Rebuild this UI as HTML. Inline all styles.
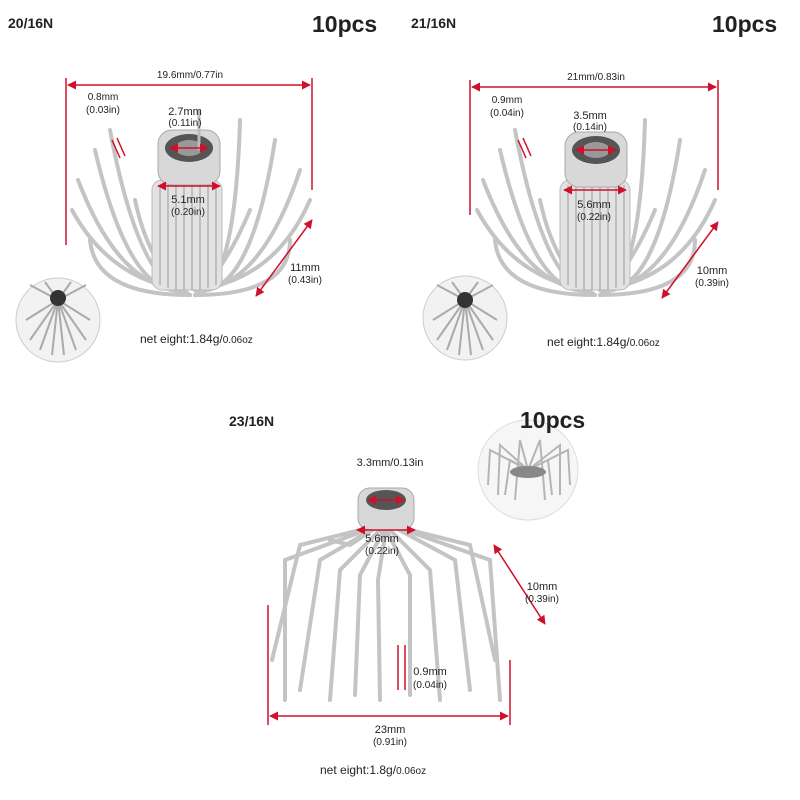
<!DOCTYPE html>
<html><head><meta charset="utf-8"><style>
html,body{margin:0;padding:0;background:#fff;}
svg{display:block;}
text{font-family:"Liberation Sans",sans-serif;fill:#222;}
.b{font-weight:bold;}
.s{font-size:11px;}
.xs{font-size:10px;}
.r{stroke:#d0102a;stroke-width:1.5;fill:none;}
.g{stroke:#c4c4c4;stroke-width:4;fill:none;stroke-linecap:round;}
.g2{stroke:#9a9a9a;stroke-width:1;fill:none;}
</style></head><body>
<svg width="800" height="800" viewBox="0 0 800 800" xmlns="http://www.w3.org/2000/svg">
<defs>
<marker id="a" viewBox="0 0 10 10" refX="9" refY="5" markerWidth="6" markerHeight="6" orient="auto-start-reverse"><path d="M0 0L10 5L0 10z" fill="#d0102a"/></marker>
</defs>
<rect width="800" height="800" fill="#fff"/>

<!-- ===== TOP LEFT ===== -->
<g>
<g class="g">
<path d="M185 290 Q120 290 78 180"/><path d="M185 290 Q130 300 95 150"/><path d="M185 290 Q110 280 72 210"/>
<path d="M190 295 Q140 290 110 130"/><path d="M190 295 Q150 270 135 200"/><path d="M190 295 Q95 295 90 240"/>
<path d="M195 290 Q260 290 300 170"/><path d="M195 290 Q250 300 275 140"/><path d="M195 290 Q275 280 310 200"/>
<path d="M195 295 Q235 290 240 120"/><path d="M195 295 Q225 270 250 210"/><path d="M195 295 Q290 295 290 240"/>
</g>
<rect x="152" y="180" width="70" height="110" rx="10" fill="#e2e2e2" stroke="#bbb"/>
<g class="g2"><path d="M160 185V285M168 185V288M176 185V290M184 185V290M192 185V290M200 185V290M208 185V288M216 185V285"/></g>
<rect x="158" y="130" width="62" height="55" rx="14" fill="#d8d8d8" stroke="#aaa"/>
<ellipse cx="189" cy="148" rx="24" ry="14" fill="#555"/>
<ellipse cx="189" cy="148" rx="14" ry="8" fill="#999"/>
<line x1="199" y1="110" x2="199" y2="150" stroke="#bbb" stroke-width="3"/>
<line class="r" x1="68" y1="85" x2="310" y2="85" marker-start="url(#a)" marker-end="url(#a)"/>
<line class="r" x1="66" y1="78" x2="66" y2="245"/><line class="r" x1="312" y1="78" x2="312" y2="190"/>
<text class="xs" x="190" y="78" text-anchor="middle">19.6mm/0.77in</text>
<line class="r" x1="112" y1="140" x2="120" y2="158"/><line class="r" x1="117" y1="138" x2="125" y2="156"/>
<text class="xs" x="103" y="100" text-anchor="middle">0.8mm</text><text class="xs" x="103" y="113" text-anchor="middle">(0.03in)</text>
<line class="r" x1="170" y1="148" x2="208" y2="148" marker-start="url(#a)" marker-end="url(#a)"/>
<text class="s" x="185" y="115" text-anchor="middle">2.7mm</text><text class="xs" x="185" y="126" text-anchor="middle">(0.11in)</text>
<line class="r" x1="158" y1="186" x2="220" y2="186" marker-start="url(#a)" marker-end="url(#a)"/>
<text class="s" x="188" y="203" text-anchor="middle">5.1mm</text><text class="xs" x="188" y="215" text-anchor="middle">(0.20in)</text>
<line class="r" x1="312" y1="220" x2="256" y2="296" marker-start="url(#a)" marker-end="url(#a)"/>
<text class="s" x="305" y="271" text-anchor="middle">11mm</text><text class="xs" x="305" y="283" text-anchor="middle">(0.43in)</text>
<circle cx="58" cy="320" r="42" fill="#f2f2f2" stroke="#ccc"/>
<g stroke="#aaa" stroke-width="2"><path d="M58 300L30 340M58 300L40 350M58 300L52 355M58 300L64 355M58 300L76 350M58 300L86 340M58 300L90 320M58 300L26 320M58 300L30 285M58 300L86 285M58 300L45 282M58 300L71 282"/></g>
<circle cx="58" cy="298" r="8" fill="#333"/>
<text x="140" y="343" style="font-size:12px">net eight:1.84g/<tspan class="xs">0.06oz</tspan></text>
<text class="b" x="8" y="28" style="font-size:14px">20/16N</text>
<text class="b" x="312" y="32" style="font-size:23px">10pcs</text>
</g>

<!-- ===== TOP RIGHT ===== -->
<g>
<g class="g">
<path d="M590 290 Q525 290 483 180"/><path d="M590 290 Q535 300 500 150"/><path d="M590 290 Q515 280 477 210"/>
<path d="M595 295 Q545 290 515 130"/><path d="M595 295 Q555 270 540 200"/><path d="M595 295 Q500 295 495 240"/>
<path d="M600 290 Q665 290 705 170"/><path d="M600 290 Q655 300 680 140"/><path d="M600 290 Q680 280 715 200"/>
<path d="M600 295 Q640 290 645 120"/><path d="M600 295 Q630 270 655 210"/><path d="M600 295 Q695 295 695 240"/>
</g>
<rect x="560" y="180" width="70" height="110" rx="10" fill="#e2e2e2" stroke="#bbb"/>
<g class="g2"><path d="M568 185V285M576 185V288M584 185V290M592 185V290M600 185V290M608 185V290M616 185V288M624 185V285"/></g>
<rect x="565" y="132" width="62" height="55" rx="14" fill="#d8d8d8" stroke="#aaa"/>
<ellipse cx="596" cy="150" rx="24" ry="14" fill="#555"/>
<ellipse cx="596" cy="150" rx="14" ry="8" fill="#999"/>
<line class="r" x1="472" y1="87" x2="716" y2="87" marker-start="url(#a)" marker-end="url(#a)"/>
<line class="r" x1="470" y1="80" x2="470" y2="215"/><line class="r" x1="718" y1="80" x2="718" y2="190"/>
<text class="xs" x="596" y="80" text-anchor="middle">21mm/0.83in</text>
<line class="r" x1="518" y1="140" x2="526" y2="158"/><line class="r" x1="523" y1="138" x2="531" y2="156"/>
<text class="xs" x="507" y="103" text-anchor="middle">0.9mm</text><text class="xs" x="507" y="116" text-anchor="middle">(0.04in)</text>
<line class="r" x1="576" y1="150" x2="616" y2="150" marker-start="url(#a)" marker-end="url(#a)"/>
<text class="s" x="590" y="119" text-anchor="middle">3.5mm</text><text class="xs" x="590" y="130" text-anchor="middle">(0.14in)</text>
<line class="r" x1="564" y1="190" x2="626" y2="190" marker-start="url(#a)" marker-end="url(#a)"/>
<text class="s" x="594" y="208" text-anchor="middle">5.6mm</text><text class="xs" x="594" y="220" text-anchor="middle">(0.22in)</text>
<line class="r" x1="718" y1="222" x2="662" y2="298" marker-start="url(#a)" marker-end="url(#a)"/>
<text class="s" x="712" y="274" text-anchor="middle">10mm</text><text class="xs" x="712" y="286" text-anchor="middle">(0.39in)</text>
<circle cx="465" cy="318" r="42" fill="#f2f2f2" stroke="#ccc"/>
<g stroke="#aaa" stroke-width="2"><path d="M465 300L437 340M465 300L447 350M465 300L459 355M465 300L471 355M465 300L483 350M465 300L493 340M465 300L497 320M465 300L433 320M465 300L437 285M465 300L493 285M465 300L452 282M465 300L478 282"/></g>
<circle cx="465" cy="300" r="8" fill="#333"/>
<text x="547" y="346" style="font-size:12px">net eight:1.84g/<tspan class="xs">0.06oz</tspan></text>
<text class="b" x="411" y="28" style="font-size:14px">21/16N</text>
<text class="b" x="712" y="32" style="font-size:23px">10pcs</text>
</g>

<!-- ===== BOTTOM ===== -->
<g>
<g class="g">
<path d="M380 525 L300 545 L272 660"/><path d="M380 525 L285 560 L285 700"/><path d="M380 525 L320 560 L300 690"/>
<path d="M382 528 L340 570 L330 700"/><path d="M384 530 L360 575 L355 695"/><path d="M386 530 L378 580 L380 700"/>
<path d="M390 525 L470 545 L495 660"/><path d="M390 525 L490 560 L500 700"/><path d="M390 525 L455 560 L470 690"/>
<path d="M388 528 L430 570 L440 700"/><path d="M386 530 L410 575 L410 695"/><path d="M380 525 L350 545 L330 540"/>
</g>
<rect x="358" y="488" width="56" height="42" rx="12" fill="#d8d8d8" stroke="#aaa"/>
<ellipse cx="386" cy="500" rx="20" ry="10" fill="#555"/>
<line class="r" x1="368" y1="500" x2="404" y2="500" marker-start="url(#a)" marker-end="url(#a)"/>
<text class="s" x="390" y="466" text-anchor="middle">3.3mm/0.13in</text>
<line class="r" x1="357" y1="530" x2="415" y2="530" marker-start="url(#a)" marker-end="url(#a)"/>
<text class="s" x="382" y="542" text-anchor="middle">5.6mm</text><text class="xs" x="382" y="554" text-anchor="middle">(0.22in)</text>
<line class="r" x1="494" y1="545" x2="545" y2="624" marker-start="url(#a)" marker-end="url(#a)"/>
<text class="s" x="542" y="590" text-anchor="middle">10mm</text><text class="xs" x="542" y="602" text-anchor="middle">(0.39in)</text>
<line class="r" x1="398" y1="645" x2="398" y2="690"/><line class="r" x1="405" y1="645" x2="405" y2="690"/>
<text class="s" x="430" y="675" text-anchor="middle">0.9mm</text><text class="xs" x="430" y="688" text-anchor="middle">(0.04in)</text>
<line class="r" x1="270" y1="716" x2="508" y2="716" marker-start="url(#a)" marker-end="url(#a)"/>
<line class="r" x1="268" y1="605" x2="268" y2="725"/><line class="r" x1="510" y1="660" x2="510" y2="725"/>
<text class="s" x="390" y="733" text-anchor="middle">23mm</text><text class="xs" x="390" y="745" text-anchor="middle">(0.91in)</text>
<circle cx="528" cy="470" r="50" fill="#f6f6f6" stroke="#ddd"/>
<g stroke="#b5b5b5" stroke-width="2" fill="none"><path d="M528 470L490 450L488 485M528 470L500 445L498 495M528 470L520 440L515 500M528 470L540 440L545 500M528 470L560 445L560 495M528 470L568 450L570 485M528 470L510 460L505 495M528 470L548 460L552 495"/></g>
<ellipse cx="528" cy="472" rx="18" ry="6" fill="#888"/>
<text x="320" y="774" style="font-size:12px">net eight:1.8g/<tspan class="xs">0.06oz</tspan></text>
<text class="b" x="229" y="426" style="font-size:14px">23/16N</text>
<text class="b" x="520" y="428" style="font-size:23px">10pcs</text>
</g>
</svg>
</body></html>
